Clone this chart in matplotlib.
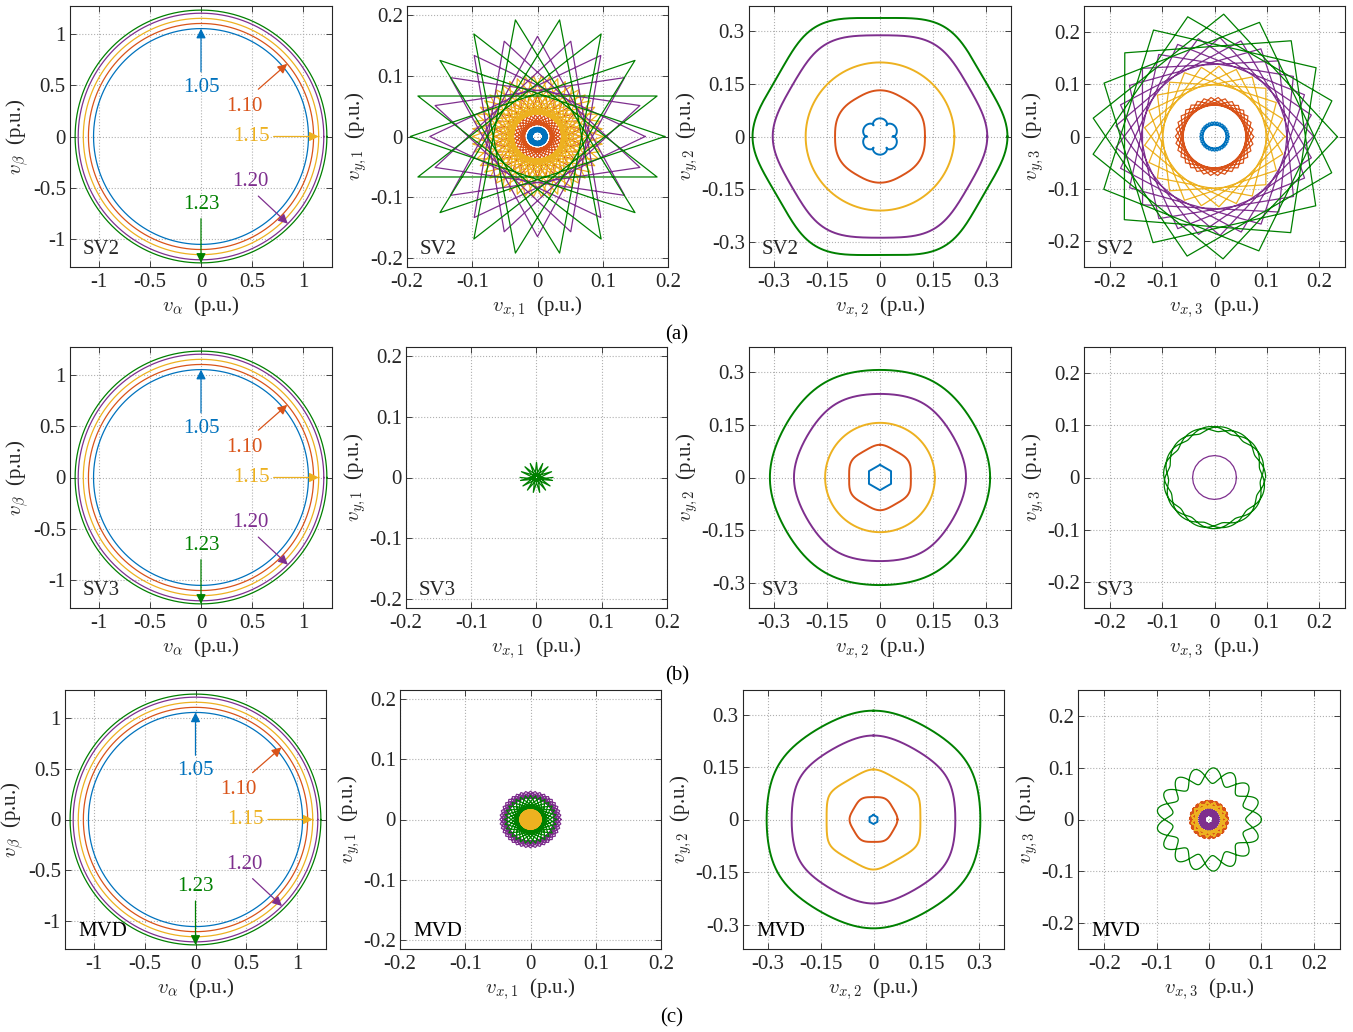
import numpy as np
import matplotlib
matplotlib.use('Agg')
import matplotlib.pyplot as plt

plt.rcParams['font.family'] = ['Liberation Serif', 'DejaVu Serif']
plt.rcParams['mathtext.fontset'] = 'cm'
plt.rcParams['axes.unicode_minus'] = False

# --- dados ---
indices = [1.05, 1.10, 1.15, 1.20, 1.23]
rotulos = ['1.05', '1.10', '1.15', '1.20', '1.23']
cores = ['#0072BD', '#D95319', '#EDB120', '#7E2F8E', '#008000']
metodos = ['SV2', 'SV3', 'MVD']
legendas = ['(a)', '(b)', '(c)']

# rótulos das setas no plano alfa-beta
rot_xy = [(0.0, 0.48), (0.42, 0.29), (0.49, 0.0), (0.48, -0.44), (0.0, -0.66)]
cauda_xy = [(0.0, 0.63), (0.56, 0.46), (0.71, 0.0), (0.56, -0.58), (0.0, -0.80)]
ponta_ang = [90, 40, 0, -45, -90]

# trajetórias nos subespaços x-y: (amplitudes, graus por amostra, amostras, rotação)
sv2_x1 = [([0.0115, 0.0035], [0.5, -19.5], 720, 0),
          ([0.068], [146.25], 32, 0),
          ([0.10], [136.8], 50, 0),
          ([0.165], [126.0], 20, 0),
          ([0.195], [140.0], 18, 0)]
sv2_x2 = [([0.044, -0.0075], [0.5, 3.5], 720, 0),
          ([0.129, -0.002], [0.5, 3.5], 720, 0),
          ([0.21], [0.5], 720, 0),
          ([0.295, 0.006, 0.002], [0.5, -2.5, 3.5], 720, 0),
          ([0.348, 0.009, 0.003], [0.5, -2.5, 3.5], 720, 0)]
sv2_x3 = [([0.025, 0.003], [0.5, -15.5], 720, 0),
          ([0.075], [74.1], 34, 0),
          ([0.135], [86.4], 25, 0),
          ([0.19], [86.9], 29, 0),
          ([0.235], [85.7], 21, 0)]

sv3_x1 = [None, None, None, None,
          ([0.025], [191.25], 16, 0)]
sv3_x2 = [([0.036], [60.0], 6, 90),
          ([0.09, 0.002, 0.0008], [0.5, -2.5, 3.5], 720, 90),
          ([0.155], [0.5], 720, 0),
          ([0.24, 0.003], [0.5, -2.5], 720, 0),
          ([0.308, 0.003], [0.5, -2.5], 720, 0)]
sv3_x3 = [None, None, None,
          ([0.042], [15.0], 24, 0),
          ([0.093, 0.005], [1.0, 7.3], 1080, 0)]

mvd_x1 = [([0.004], [150.0], 12, 0),
          ([0.013], [170.0], 72, 0),
          ([0.021], [175.5], 80, 0),
          ([0.047], [81.0], 40, 0),
          ([0.04], [123.75], 32, 0)]
mvd_x2 = [([0.013], [60.0], 6, 90),
          ([0.066, 0.0015, 0.0005], [0.5, -2.5, 3.5], 720, 0),
          ([0.138, 0.005], [0.5, -2.5], 720, 90),
          ([0.236, 0.004], [0.5, -2.5], 720, 90),
          ([0.307, 0.004], [0.5, -2.5], 720, 90)]
mvd_x3 = [([0.008], [0.5], 720, 0),
          ([0.037], [94.0], 90, 0),
          ([0.034], [96.0], 60, 0),
          ([0.02], [132.0], 60, 0),
          ([0.085, 0.0075, 0.0075], [0.5, 4.75, -3.75], 1440, 0)]

trajetorias = [[sv2_x1, sv2_x2, sv2_x3],
               [sv3_x1, sv3_x2, sv3_x3],
               [mvd_x1, mvd_x2, mvd_x3]]

ticks_ab = [-1, -0.5, 0, 0.5, 1]
ticks_x1 = [-0.2, -0.1, 0, 0.1, 0.2]
ticks_x2 = [-0.3, -0.15, 0, 0.15, 0.3]
ticks_x3 = [-0.2, -0.1, 0, 0.1, 0.2]
lims = [(1.28, 1.27), (0.2, 0.215), (0.37, 0.37), (0.25, 0.25)]
ticks = [ticks_ab, ticks_x1, ticks_x2, ticks_x3]
xlabels = [r'$v_{\alpha}$  (p.u.)', r'$v_{x,1}$  (p.u.)',
           r'$v_{x,2}$  (p.u.)', r'$v_{x,3}$  (p.u.)']
ylabels = [r'$v_{\beta}$  (p.u.)', r'$v_{y,1}$  (p.u.)',
           r'$v_{y,2}$  (p.u.)', r'$v_{y,3}$  (p.u.)']

# posição dos eixos em pixels (esquerda, direita) por linha e (topo, base)
col_px = [[(70, 332), (407, 668), (749, 1011), (1084, 1345)],
          [(70, 332), (406, 667), (749, 1011), (1084, 1345)],
          [(65, 326), (400, 661), (743, 1004), (1078, 1340)]]
lin_px = [(6, 267), (347, 608), (690, 949)]
leg_px = [(677, 335), (677, 676), (672, 1018)]

W, H = 1353, 1032
fig = plt.figure(figsize=(W / 100, H / 100), dpi=100)


def orbita(amp, passo, n, rot):
    k = np.arange(n + 1)
    z = np.zeros(n + 1, complex)
    for a, s in zip(amp, passo):
        z += a * np.exp(1j * np.deg2rad(s) * k)
    z *= np.exp(1j * np.deg2rad(rot))
    return z.real, z.imag


def fmt(v):
    if v == 0:
        return '0'
    return ('%g' % v)


for r in range(3):
    top, bot = lin_px[r]
    for c in range(4):
        left, right = col_px[r][c]
        ax = fig.add_axes([left / W, 1 - bot / H, (right - left) / W, (bot - top) / H])
        lx, ly = lims[c]
        lw = 0.9 if c != 2 else 1.4
        if c == 0:
            th = np.linspace(0, 2 * np.pi, 721)
            for i, rad in enumerate(indices):
                ax.plot(rad * np.cos(th), rad * np.sin(th), color=cores[i], lw=lw)
            for i, rad in enumerate(indices):
                a = np.deg2rad(ponta_ang[i])
                ax.annotate('', xy=(rad * np.cos(a), rad * np.sin(a)), xytext=cauda_xy[i],
                            arrowprops=dict(arrowstyle='-|>', color=cores[i], lw=0.9,
                                            mutation_scale=14, shrinkA=0, shrinkB=0))
                ax.text(rot_xy[i][0], rot_xy[i][1], rotulos[i], color=cores[i],
                        fontsize=15, ha='center', va='center')
        else:
            for i, tr in enumerate(trajetorias[r][c - 1]):
                if tr is None:
                    continue
                x, y = orbita(*tr)
                ax.plot(x, y, color=cores[i], lw=lw)
        ax.set_xlim(-lx, lx)
        ax.set_ylim(-ly, ly)
        ax.set_xticks(ticks[c])
        ax.set_yticks(ticks[c])
        ax.set_xticklabels([fmt(v) for v in ticks[c]])
        ax.set_yticklabels([fmt(v) for v in ticks[c]])
        ax.tick_params(direction='in', length=4, width=0.6, top=True, right=True,
                       labelsize=15, colors='#262626', pad=4)
        ax.tick_params(axis='y', pad=3)
        ax.grid(True, ls=':', color='#b0b0b0', lw=0.8)
        for s in ax.spines.values():
            s.set_color('#262626')
            s.set_linewidth(0.8)
        ax.set_xlabel(xlabels[c], fontsize=15, color='#262626', labelpad=2)
        ax.set_ylabel(ylabels[c], fontsize=15, color='#262626', labelpad=1)
        ax.text(0.05, 0.03, metodos[r], transform=ax.transAxes, fontsize=15,
                color='#262626' if r < 2 else 'black', ha='left', va='bottom')
    fig.text(leg_px[r][0] / W, 1 - leg_px[r][1] / H, legendas[r], fontsize=15,
             ha='center', va='center')

fig.savefig('out.png', dpi=100)
